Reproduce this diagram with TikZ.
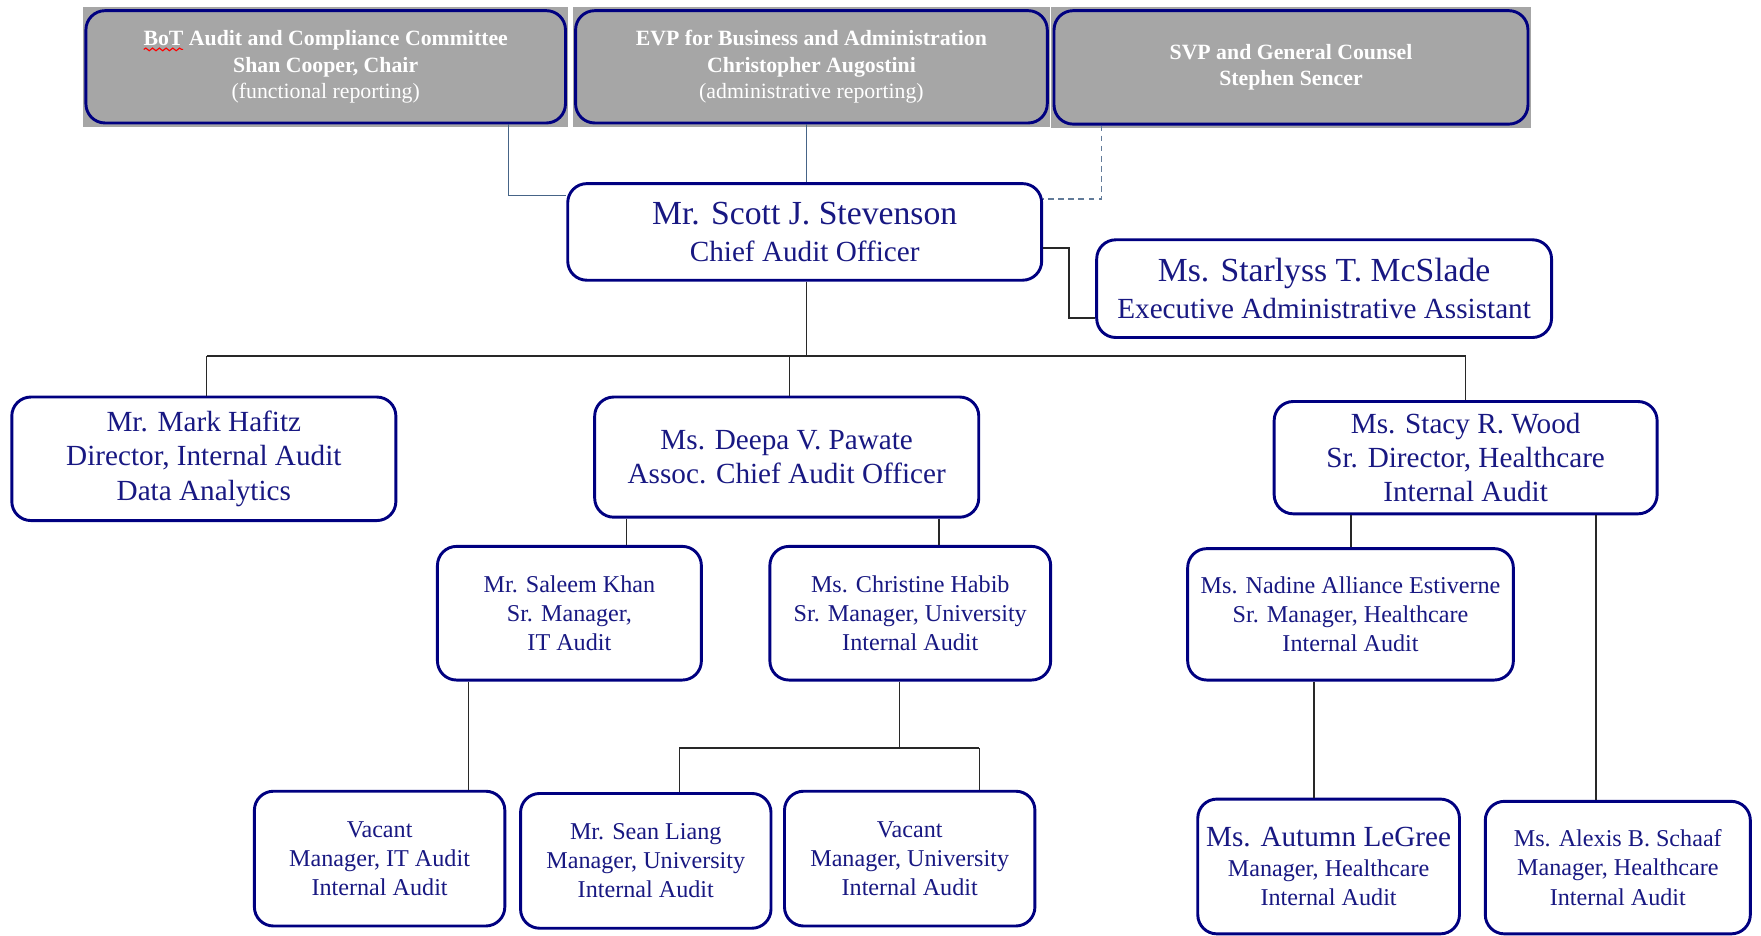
\documentclass[tikz,border=0pt]{standalone}
\usepackage{fontspec}
\setmainfont{Liberation Serif}
\usetikzlibrary{backgrounds,decorations.pathmorphing}
\definecolor{navy}{RGB}{0,0,128}
\definecolor{navytext}{RGB}{24,24,130}
\definecolor{graybox}{RGB}{166,166,166}
\definecolor{conn}{RGB}{40,40,40}
\definecolor{bluelink}{RGB}{70,100,135}
\tikzset{
 orgbox/.style={draw=navy, line width=2.6pt, rounded corners=17pt, fill=white, align=center, text=navytext, inner sep=2pt},
 topbox/.style={orgbox, fill=graybox, text=white, font=\fontsize{19.4}{23.5}\selectfont\bfseries},
 lvtwo/.style={orgbox, font=\fontsize{26}{30.5}\selectfont},
 lvthree/.style={orgbox, font=\fontsize{21.5}{26}\selectfont},
 bigname/.style={orgbox, font=\fontsize{26}{33}\selectfont},
 link/.style={draw=conn, line width=1.3pt},
 toplink/.style={draw=bluelink, line width=1.3pt},
 dashlink/.style={draw=bluelink!85, line width=1.3pt, dash pattern=on 5pt off 4pt},
 spellwave/.style={draw=red, line width=1pt, decorate, decoration={snake, amplitude=1.2pt, segment length=6pt}},
}
\begin{document}
\begin{tikzpicture}[x=1pt,y=1pt]
\useasboundingbox (0,0) rectangle (1568,-833.4);

% top boxes
\node[topbox, minimum width=427pt, minimum height=100pt] (bot) at (290,-59.5)
 {BoT Audit and Compliance Committee\\Shan Cooper, Chair\\\mdseries(functional reporting)};
\node[topbox, minimum width=420pt, minimum height=100pt] (evp) at (722.5,-59.5)
 {EVP for Business and Administration\\Christopher Augostini\\\mdseries(administrative reporting)};
\node[topbox, minimum width=422pt, minimum height=101pt] (svp) at (1149.5,-60)
 {SVP and General Counsel\\Stephen Sencer};
\begin{scope}[on background layer]
\fill[graybox] ([shift={(-1,2)}]bot.north west) rectangle ([shift={(1,-2)}]bot.south east);
\fill[graybox] ([shift={(-1,2)}]evp.north west) rectangle ([shift={(1,-2)}]evp.south east);
\fill[graybox] ([shift={(-1,2)}]svp.north west) rectangle ([shift={(1,-2)}]svp.south east);
\end{scope}
% spell-check underline under "BoT"
\draw[spellwave] ([shift={(-162,15.5)}]bot.center) -- ([shift={(-127,15.5)}]bot.center);

% second row
\node[bigname, minimum width=422pt, minimum height=86pt] (scott) at (716.5,-206.5)
 {{\fontsize{30}{33}\selectfont Mr. Scott J. Stevenson}\\Chief Audit Officer};
\node[bigname, minimum width=405pt, minimum height=87pt] (mcslade) at (1179,-257)
 {{\fontsize{30}{33}\selectfont Ms. Starlyss T. McSlade}\\Executive Administrative Assistant};

% third row
\node[lvtwo, minimum width=342pt, minimum height=110pt] (hafitz) at (181.5,-408.5)
 {Mr. Mark Hafitz\\Director, Internal Audit\\Data Analytics};
\node[lvtwo, minimum width=342pt, minimum height=107pt] (pawate) at (700.5,-407)
 {Ms. Deepa V. Pawate\\Assoc. Chief Audit Officer};
\node[lvtwo, minimum width=341pt, minimum height=100pt] (wood) at (1305,-407.5)
 {Ms. Stacy R. Wood\\Sr. Director, Healthcare\\Internal Audit};

% fourth row
\node[lvthree, minimum width=235pt, minimum height=119pt] (khan) at (507,-546)
 {Mr. Saleem Khan\\Sr. Manager,\\IT Audit};
\node[lvthree, minimum width=250pt, minimum height=119pt] (habib) at (810.5,-546)
 {Ms. Christine Habib\\Sr. Manager, University\\Internal Audit};
\node[lvthree, minimum width=290pt, minimum height=117pt] (estiverne) at (1202.5,-547)
 {Ms. Nadine Alliance Estiverne\\Sr. Manager, Healthcare\\Internal Audit};

% bottom row
\node[lvthree, minimum width=223pt, minimum height=120pt] (vacit) at (338,-764.5)
 {Vacant\\Manager, IT Audit\\Internal Audit};
\node[lvthree, minimum width=223pt, minimum height=120pt] (liang) at (575,-766.5)
 {Mr. Sean Liang\\Manager, University\\Internal Audit};
\node[lvthree, minimum width=223pt, minimum height=120pt] (vacu) at (810,-764.5)
 {Vacant\\Manager, University\\Internal Audit};
\node[lvthree, minimum width=233pt, minimum height=120pt] (legree) at (1183,-771.5)
 {{\fontsize{26}{26}\selectfont Ms. Autumn LeGree}\\Manager, Healthcare\\Internal Audit};
\node[lvthree, minimum width=236pt, minimum height=118pt] (schaaf) at (1440.5,-772.5)
 {Ms. Alexis B. Schaaf\\Manager, Healthcare\\Internal Audit};

% connectors to the top
\coordinate (c1) at (453,-174);
\draw[toplink] (bot.south -| c1) |- (scott.west |- c1);
\coordinate (c2) at (718,0);
\draw[toplink] (evp.south -| c2) -- (scott.north -| c2);
\coordinate (c3) at (981,-177);
\draw[dashlink] (svp.south -| c3) |- (scott.east |- c3);

% assistant
\coordinate (c4) at (952,-221);
\coordinate (c5) at (952,-283);
\draw[link] (scott.east |- c4) -- (c4) -- (c5) -- (mcslade.west |- c5);

% main bus
\coordinate (bus) at (718,-317);
\coordinate (bl) at (184,-317);
\coordinate (bm) at (703,-317);
\coordinate (br) at (1305,-317);
\draw[link] (scott.south -| bus) -- (bus);
\draw[link] (bl) -- (br);
\draw[link] (bl) -- (hafitz.north -| bl);
\draw[link] (bm) -- (pawate.north -| bm);
\draw[link] (br) -- (wood.north -| br);

% Pawate children
\coordinate (p1) at (558,0);
\coordinate (p2) at (836,0);
\draw[link] (pawate.south -| p1) -- (khan.north -| p1);
\draw[link] (pawate.south -| p2) -- (habib.north -| p2);

% Wood children
\coordinate (w1) at (1203,0);
\coordinate (w2) at (1421,0);
\draw[link] (wood.south -| w1) -- (estiverne.north -| w1);
\draw[link] (wood.south -| w2) -- (schaaf.north -| w2);

% Khan child
\coordinate (k1) at (417,0);
\draw[link] (khan.south -| k1) -- (vacit.north -| k1);

% Habib children
\coordinate (h0) at (801,-666);
\coordinate (h1) at (605,-666);
\coordinate (h2) at (872,-666);
\draw[link] (habib.south -| h0) -- (h0);
\draw[link] (h1) -- (h2);
\draw[link] (h1) -- (liang.north -| h1);
\draw[link] (h2) -- (vacu.north -| h2);

% Estiverne child
\coordinate (e1) at (1170,0);
\draw[link] (estiverne.south -| e1) -- (legree.north -| e1);
\end{tikzpicture}
\end{document}
